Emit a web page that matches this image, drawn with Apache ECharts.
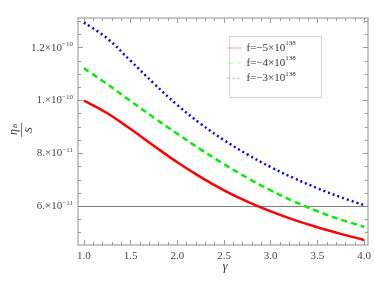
<!DOCTYPE html>
<html>
<head>
<meta charset="utf-8">
<script src="https://cdn.jsdelivr.net/npm/echarts@6/dist/echarts.min.js"></script>
<style>html,body{margin:0;padding:0;background:#fff;}#c{width:374px;height:291px;}</style>
</head>
<body>
<div id="c"></div>
<script>
// y values in units of 1e-11
const gamma   = [1.0, 1.25, 1.5, 1.75, 2.0, 2.25, 2.5, 2.75, 3.0, 3.25, 3.5, 3.75, 4.0];
const fMinus5 = [10.0, 9.52, 8.92, 8.28, 7.66, 7.1, 6.6, 6.17, 5.8, 5.48, 5.2, 4.95, 4.72];
const fMinus4 = [11.22, 10.62, 9.98, 9.35, 8.74, 8.15, 7.59, 7.07, 6.6, 6.18, 5.81, 5.49, 5.22];
const fMinus3 = [12.95, 12.35, 11.5, 10.64, 9.83, 9.12, 8.5, 7.96, 7.48, 7.06, 6.68, 6.34, 6.04];
const threshold = 6;
const seriesNames = ['f=−5×10138', 'f=−4×10138', 'f=−3×10138'];
const legendBase = ['f=−5×10', 'f=−4×10', 'f=−3×10'];
const legendExp = ['138', '138', '138'];
const xTicks = [1.0, 1.5, 2.0, 2.5, 3.0, 3.5, 4.0];
const xTickLabels = ['1.0', '1.5', '2.0', '2.5', '3.0', '3.5', '4.0'];
const yTicks = [6, 8, 10, 12];
const yTickBase = ['6.×10', '8.×10', '1.×10', '1.2×10'];
const yTickExp = ['−11', '−11', '−10', '−10'];
const xMinor = [];
for (let i = 9; i <= 40; i++) xMinor.push(+(i / 10).toFixed(1));
const yMinor = [];
for (let i = 9; i <= 26; i++) yMinor.push(i / 2);

const X_MIN = 0.936, X_MAX = 4.04, Y_MIN = 4.53, Y_MAX = 13.125;
const FONT = 'Liberation Serif';
const FRAME = '#b4b4b4';
const TICK = '#9a9a9a';

const chart = echarts.init(document.getElementById('c'), null, {renderer: 'canvas'});

function mkX(pos, ticks, len, showLine, labels) {
  return {
    type: 'value', position: pos, min: X_MIN, max: X_MAX,
    axisLine: {show: showLine, onZero: false, lineStyle: {color: FRAME, width: 1.5}},
    axisTick: {show: true, inside: true, length: len, customValues: ticks, lineStyle: {color: TICK, width: 1}},
    axisLabel: labels ? {
      show: true, customValues: xTicks, margin: 6, fontFamily: FONT, fontSize: 11, color: '#444',
      formatter: v => { const i = xTicks.findIndex(t => Math.abs(t - v) < 1e-6); return i >= 0 ? xTickLabels[i] : ''; }
    } : {show: false},
    splitLine: {show: false}
  };
}
function mkY(pos, ticks, len, showLine, labels) {
  return {
    type: 'value', position: pos, min: Y_MIN, max: Y_MAX,
    axisLine: {show: showLine, onZero: false, lineStyle: {color: FRAME, width: 1.5}},
    axisTick: {show: true, inside: true, length: len, customValues: ticks, lineStyle: {color: TICK, width: 1}},
    axisLabel: labels ? {
      show: true, customValues: yTicks, margin: 5, fontFamily: FONT, fontSize: 11, color: '#444',
      formatter: v => { const i = yTicks.findIndex(t => Math.abs(t - v) < 1e-6); return i >= 0 ? '{b|' + yTickBase[i] + '}{s|' + yTickExp[i] + '}' : ''; },
      rich: {
        b: {fontFamily: FONT, fontSize: 11, color: '#444', lineHeight: 14, verticalAlign: 'middle'},
        s: {fontFamily: FONT, fontSize: 7, color: '#444', lineHeight: 14, verticalAlign: 'top'}
      }
    } : {show: false},
    splitLine: {show: false}
  };
}

const common = {type: 'line', symbol: 'none', smooth: 0.4, xAxisIndex: 0, yAxisIndex: 0, z: 3};

const option = {
  animation: false,
  backgroundColor: '#fff',
  grid: {left: 78, top: 18, width: 294, height: 227, containLabel: false},
  xAxis: [
    mkX('bottom', xTicks, 5, true, true),
    mkX('bottom', xMinor, 3, false, false),
    mkX('top', xTicks, 5, true, false),
    mkX('top', xMinor, 3, false, false)
  ],
  yAxis: [
    mkY('left', yTicks, 5, true, true),
    mkY('left', yMinor, 3, false, false),
    mkY('right', yTicks, 5, true, false),
    mkY('right', yMinor, 3, false, false)
  ],
  legend: {
    orient: 'vertical', left: 227, top: 40, padding: 0, itemGap: 1.6,
    itemWidth: 14, itemHeight: 10,
    data: seriesNames,
    lineStyle: {width: 1, opacity: 0.35},
    itemStyle: {opacity: 0},
    formatter: name => { const i = seriesNames.indexOf(name); return '{b|' + legendBase[i] + '}{s|' + legendExp[i] + '}'; },
    textStyle: {
      fontFamily: FONT, fontSize: 11, color: '#333',
      rich: {
        b: {fontFamily: FONT, fontSize: 11, color: '#333', lineHeight: 16, verticalAlign: 'middle'},
        s: {fontFamily: FONT, fontSize: 7, color: '#333', lineHeight: 16, verticalAlign: 'top'}
      }
    }
  },
  graphic: [
    {type: 'rect', left: 227, top: 34, shape: {width: 92, height: 61}, style: {fill: 'none', stroke: '#d4d4d4', lineWidth: 1}, z: 1},
    {type: 'text', x: 225, y: 267, style: {text: 'γ', font: 'italic 12px "Liberation Serif"', fill: '#333', align: 'center', verticalAlign: 'middle'}},
    {type: 'group', x: 21.5, y: 130, rotation: Math.PI / 2, children: [
      {type: 'text', x: -2, y: -8, style: {text: 'η', font: 'italic 12px "Liberation Serif"', fill: '#333', align: 'center', verticalAlign: 'middle'}},
      {type: 'text', x: 4, y: -6, style: {text: 'B', font: 'italic 7px "Liberation Serif"', fill: '#333', align: 'center', verticalAlign: 'middle'}},
      {type: 'line', shape: {x1: -7, y1: 0, x2: 7, y2: 0}, style: {stroke: '#777', lineWidth: 1}},
      {type: 'text', x: 0, y: 8, style: {text: 'S', font: 'italic 11px "Liberation Serif"', fill: '#333', align: 'center', verticalAlign: 'middle'}}
    ]}
  ],
  series: [
    Object.assign({}, common, {
      name: seriesNames[0], data: gamma.map((g, i) => [g, fMinus5[i]]),
      lineStyle: {color: '#ff0000', width: 2.5, type: 'solid'}, itemStyle: {color: '#ff0000'},
      markLine: {silent: true, symbol: 'none', label: {show: false}, lineStyle: {color: '#808080', width: 1, type: 'solid'}, data: [{yAxis: threshold}], animation: false, z: 2}
    }),
    Object.assign({}, common, {
      name: seriesNames[1], data: gamma.map((g, i) => [g, fMinus4[i]]),
      lineStyle: {color: '#00ee00', width: 2.5, type: [6, 4]}, itemStyle: {color: '#00ee00'}
    }),
    Object.assign({}, common, {
      name: seriesNames[2], data: gamma.map((g, i) => [g, fMinus3[i]]),
      lineStyle: {color: '#0000ff', width: 2.5, type: [2, 3]}, itemStyle: {color: '#0000ff'}
    })
  ]
};
chart.setOption(option);
</script>
</body>
</html>
